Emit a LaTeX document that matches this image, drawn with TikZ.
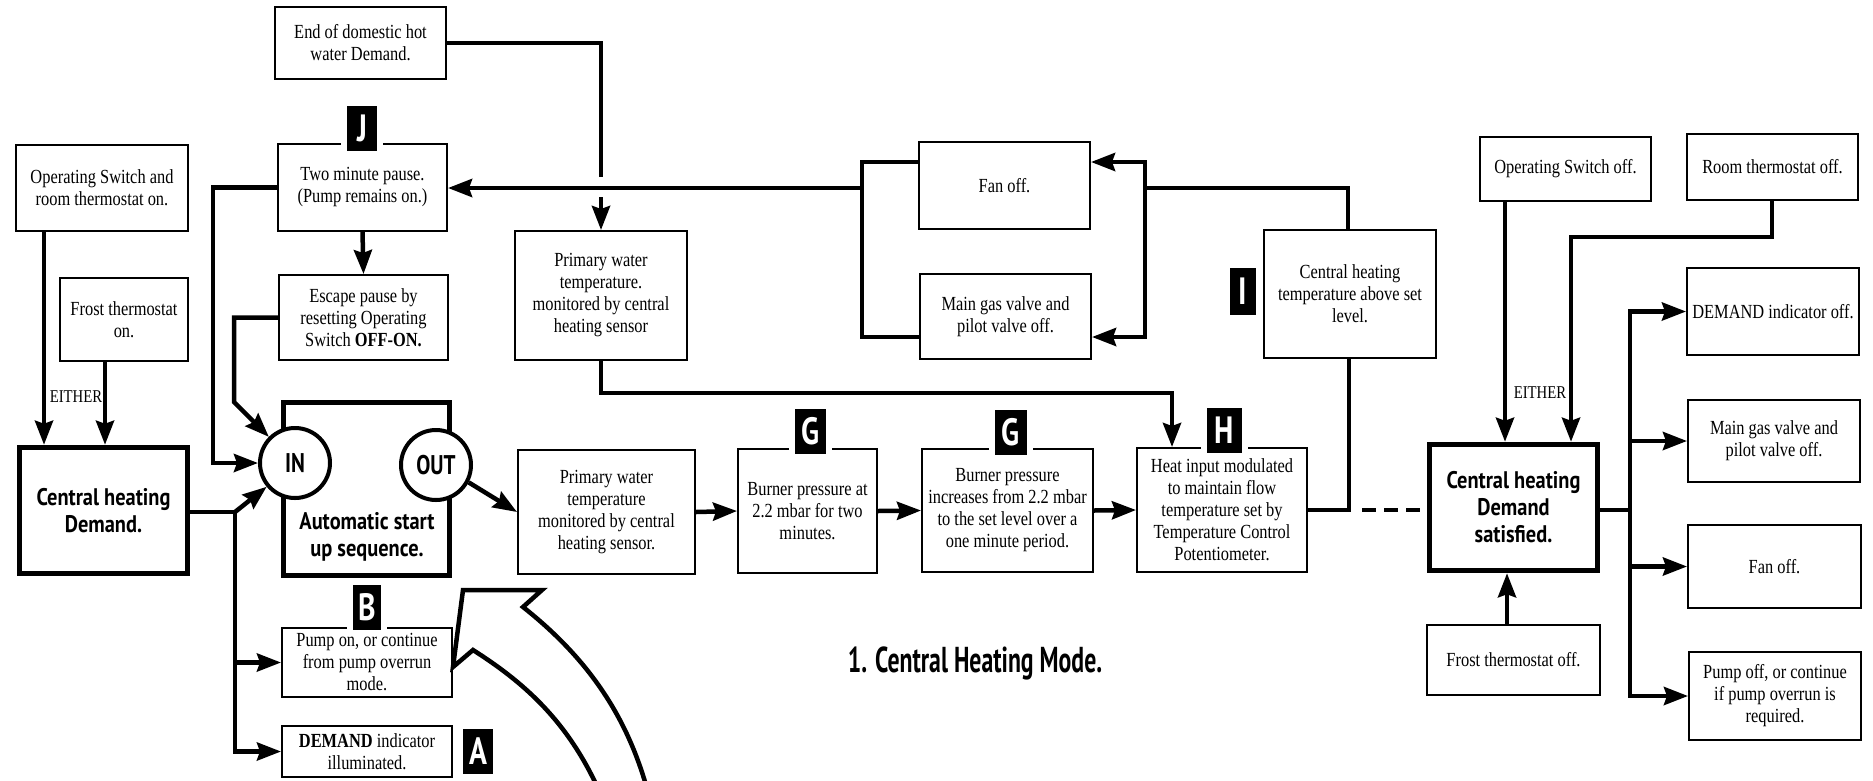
\documentclass[tikz,border=0pt]{standalone}
\usepackage{fontspec}
\setmainfont{Liberation Serif}[FakeStretch=0.82]
\newfontfamily\headfont{PT Sans}[FakeStretch=0.85]
\newfontfamily\labfont{PT Sans}[FakeStretch=0.78]
\newfontfamily\ttlfont{PT Sans}[FakeStretch=0.66]
\usetikzlibrary{arrows.meta}
\begin{document}
\begin{tikzpicture}[x=1pt,y=-1pt,
  bx/.style={draw, line width=2pt, fill=white, align=center, inner sep=1pt, font=\fontsize{20pt}{22pt}\selectfont},
  hbx/.style={draw, line width=5.5pt, fill=white, align=center, inner sep=1pt, font=\headfont\bfseries\fontsize{24pt}{27pt}\selectfont},
  port/.style={circle, draw, line width=4pt, fill=white, minimum size=70pt, inner sep=0pt, font=\labfont\bfseries\fontsize{27pt}{27pt}\selectfont},
  lab/.style={fill=black, text=white, inner sep=0pt, minimum height=45pt, font=\labfont\bfseries\fontsize{38pt}{38pt}\selectfont},
  labcut/.style={lab, preaction={draw=white, line width=12pt}},
  ln/.style={line width=4.5pt},
  ar/.style={ln, -{Stealth[length=24pt, width=18pt, inset=3pt]}},
  either/.style={font=\fontsize{18pt}{18pt}\selectfont, inner sep=1pt},
  bigarr/.style={draw, fill=white, line width=4.5pt, line join=miter},
  ttl/.style={font=\ttlfont\bfseries\fontsize{36pt}{36pt}\selectfont}
]
\fill[white] (0,0) rectangle (1873,780);
\useasboundingbox (0,0) rectangle (1873,780);

% ---------------- left part ----------------
\node[bx, minimum width=171pt, minimum height=72pt] (dhw) at (360.5,43) {End of domestic hot\\water Demand.};
\node[bx, minimum width=169pt, minimum height=87pt] (pause) at (362.5,187.5) {Two minute pause.\\(Pump remains on.)};
\node[labcut, minimum width=30pt] (labJ) at (362,128) {J};
\node[bx, minimum width=169pt, minimum height=85pt] (escape) at (363.5,317.5) {Escape pause by\\resetting Operating\\Switch \textbf{OFF-ON.}};
\node[bx, minimum width=172pt, minimum height=86pt] (opsw) at (102,188) {Operating Switch and\\room thermostat on.};
\node[bx, minimum width=128pt, minimum height=83pt] (frost) at (124,319.5) {Frost thermostat\\on.};
\node[hbx, minimum width=168pt, minimum height=126pt] (chd) at (103.5,510.5) {Central heating\\Demand.};
\node[either] (either1) at (76,397) {EITHER};

\node[hbx, minimum width=166pt, minimum height=173pt] (auto) at (366.5,489) {};
\node[font=\headfont\bfseries\fontsize{24pt}{27pt}\selectfont, align=center] (autotxt) at (367,537) {Automatic start\\up sequence.};
\node[port] (inc) at (295,463) {IN};
\node[port] (outc) at (436,465) {OUT};

\node[bx, minimum width=170pt, minimum height=69pt] (pumpon) at (367,662.5) {Pump on, or continue\\from pump overrun\\mode.};
\node[labcut, minimum width=28pt] (labB) at (367,607.5) {B};
\node[bx, minimum width=170pt, minimum height=51pt] (demill) at (367,751.5) {\textbf{DEMAND} indicator\\illuminated.};
\node[lab, minimum width=30pt] (labA) at (478,751.5) {A};

% ---------------- middle ----------------
\node[bx, minimum width=172pt, minimum height=129pt] (pwt1) at (601,295.5) {Primary water\\temperature.\\monitored by central\\heating sensor};
\node[bx, minimum width=177pt, minimum height=124pt] (pwt2) at (606.5,512) {Primary water\\temperature\\monitored by central\\heating sensor.};
\node[bx, minimum width=139pt, minimum height=124pt] (bp1) at (807.5,511) {Burner pressure at\\2.2 mbar for two\\minutes.};
\node[labcut, minimum width=31pt] (labG1) at (810.5,431.5) {G};
\node[bx, minimum width=171pt, minimum height=123pt] (bp2) at (1007.5,510.5) {Burner pressure\\increases from 2.2 mbar\\to the set level over a\\one minute period.};
\node[labcut, minimum width=32pt] (labG2) at (1011,432) {G};
\node[bx, minimum width=170pt, minimum height=124pt] (heat) at (1222,510) {Heat input modulated\\to maintain flow\\temperature set by\\Temperature Control\\Potentiometer.};
\node[labcut, minimum width=35pt] (labH) at (1224.5,430.5) {H};
\node[bx, minimum width=171pt, minimum height=87pt] (fan1) at (1004.5,185.5) {Fan off.};
\node[bx, minimum width=171pt, minimum height=85pt] (gas1) at (1005.5,316.5) {Main gas valve and\\pilot valve off.};
\node[lab, minimum width=26pt, minimum height=47pt] (labI) at (1243,291.5) {I};
\node[bx, minimum width=172pt, minimum height=128pt] (chtemp) at (1350,294) {Central heating\\temperature above set\\level.};

\node[ttl] (title) at (975,663) {1. Central Heating Mode.};

% ---------------- right part ----------------
\node[bx, minimum width=171pt, minimum height=64pt] (opoff) at (1565.5,169) {Operating Switch off.};
\node[bx, minimum width=171pt, minimum height=66pt] (roomoff) at (1772.5,167) {Room thermostat off.};
\node[bx, minimum width=172pt, minimum height=87pt] (demoff) at (1773,311.5) {DEMAND indicator off.};
\node[hbx, minimum width=168pt, minimum height=126pt] (chds) at (1513.5,507.5) {Central heating\\Demand\\satisfied.};
\node[either] (either2) at (1540,393) {EITHER};
\node[bx, minimum width=172pt, minimum height=82pt] (gas2) at (1774,441) {Main gas valve and\\pilot valve off.};
\node[bx, minimum width=173pt, minimum height=83pt] (fan2) at (1774.5,566.5) {Fan off.};
\node[bx, minimum width=172pt, minimum height=88pt] (pumpoff) at (1775,696) {Pump off, or continue\\if pump overrun is\\required.};
\node[bx, minimum width=173pt, minimum height=70pt] (frostoff) at (1513.5,660) {Frost thermostat off.};

% ---------------- connectors ----------------
% left inputs
\draw[ar] (opsw.south -| 44,0) -- (chd.north -| 44,0);
\draw[ar] (frost.south -| 105,0) -- (chd.north -| 105,0);
\coordinate (j1) at (235,512);
\draw[ln] (chd.east |- j1) -- (j1);
\draw[ar] (j1) -- (inc.220);
\draw[ar] (j1) -- (j1 |- demill.west) -- (demill.west);
\draw[ar] (j1 |- pumpon.west) -- (pumpon.west);
\draw[ar] (pause.west) -| (213,463) -- (inc.west);
\draw[ar] (escape.west) -| (234,402) -- (inc.135);
\draw[ar] (pause.south) -- (escape.north);
\draw[ar] (outc.-28) -- (pwt2.west);

% domestic hot water line with hop
\draw[ln] (dhw.east) -| (601,177);
\draw[ar] (601,197) -- (pwt1.north);

% fan / gas brackets
\draw[ln] (fan1.west |- 0,162) -- (862,162) -- (862,337) -- (gas1.west |- 0,337);
\draw[ar] (862,188) -- (pause.east |- 0,188);
\draw[ln] (chtemp.north -| 1348,0) -- (1348,188) -- (1145,188);
\draw[ar] (1145,188) -- (1145,162) -- (fan1.east |- 0,162);
\draw[ar] (1145,188) -- (1145,337) -- (gas1.east |- 0,337);

% main row
\draw[ar] (pwt2.east) -- (bp1.west);
\draw[ar] (bp1.east) -- (bp2.west);
\draw[ar] (bp2.east) -- (heat.west);
\draw[ar] (pwt1.south) -- (pwt1.south |- 0,393) -| (heat.north -| 1172,0);
\draw[ln] (heat.east) -- (heat.east -| 1349,0) -- (chtemp.south -| 1349,0);
\draw[ln, dash pattern=on 14pt off 8pt] (1362,510) -- (chds.west |- 0,510);

% right side
\draw[ar] (opoff.south -| 1505,0) -- (chds.north -| 1505,0);
\draw[ar] (roomoff.south -| 1772,0) |- (1571,237) -- (chds.north -| 1571,0);
\draw[ar] (frostoff.north -| 1507,0) -- (chds.south -| 1507,0);
\coordinate (j2) at (1630,510);
\draw[ln] (chds.east |- j2) -- (j2);
\draw[ar] (j2) -- (j2 |- demoff.west) -- (demoff.west);
\draw[ar] (j2) -- (j2 |- pumpoff.west) -- (pumpoff.west);
\draw[ar] (j2 |- gas2.west) -- (gas2.west);
\draw[ar] (j2 |- fan2.west) -- (fan2.west);

% big curved arrow
\draw[bigarr] (463,590) -- (542,590) -- (523,607) .. controls (590,660) and (630,720) .. (650,800)
  -- (603,800) .. controls (570,720) and (520,680) .. (473,650) -- (453,667) -- cycle;
\end{tikzpicture}
\end{document}
